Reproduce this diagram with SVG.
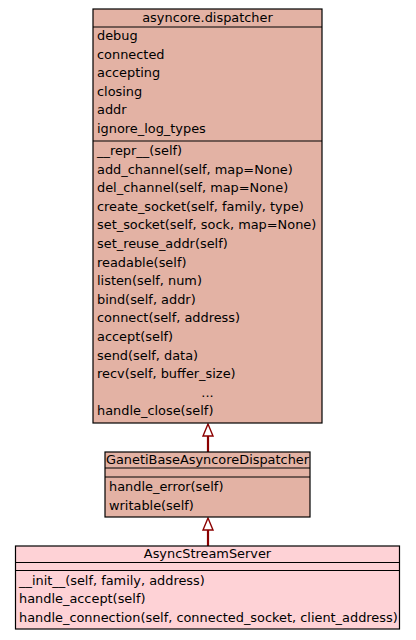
<svg xmlns="http://www.w3.org/2000/svg" width="416" height="640" viewBox="0 0 416 640">
<defs>
<style>
.box{stroke:#000;stroke-width:1.2}
.a{fill:#e3b2a4}
.b{fill:#fed2d6}
.sep{stroke:#000;stroke-width:1.2}
text{font-family:"DejaVu Sans",sans-serif;font-size:12.9px;fill:#000}
.c{text-anchor:middle}
.edge{stroke:#8b0000;stroke-width:2.2;fill:none}
.head{fill:#fff;stroke:#8b0000;stroke-width:1.4}
</style>
</defs>
<rect width="416" height="640" fill="#fff"/>
<g id="connectors">
<line class="edge" x1="208" y1="436" x2="208" y2="452"/>
<polygon class="head" points="208,424 203,436 213,436"/>
<line class="edge" x1="208" y1="530" x2="208" y2="546"/>
<polygon class="head" points="208,518 203,530 213,530"/>
</g>
<g id="dispatcher">
<rect class="box a" x="93" y="9" width="229" height="414"/>
<line class="sep" x1="93" y1="27" x2="322" y2="27"/>
<line class="sep" x1="93" y1="141" x2="322" y2="141"/>
<text class="c" x="207.5" y="22">asyncore.dispatcher</text>
<text x="97" y="40">debug</text>
<text x="97" y="58.6">connected</text>
<text x="97" y="77.2">accepting</text>
<text x="97" y="95.8">closing</text>
<text x="97" y="114.4">addr</text>
<text x="97" y="133">ignore_log_types</text>
<text x="97" y="155">__repr__(self)</text>
<text x="97" y="173.6">add_channel(self, map=None)</text>
<text x="97" y="192.2">del_channel(self, map=None)</text>
<text x="97" y="210.8">create_socket(self, family, type)</text>
<text x="97" y="229.4">set_socket(self, sock, map=None)</text>
<text x="97" y="248">set_reuse_addr(self)</text>
<text x="97" y="266.6">readable(self)</text>
<text x="97" y="285.2">listen(self, num)</text>
<text x="97" y="303.8">bind(self, addr)</text>
<text x="97" y="322.4">connect(self, address)</text>
<text x="97" y="341">accept(self)</text>
<text x="97" y="359.6">send(self, data)</text>
<text x="97" y="378.2">recv(self, buffer_size)</text>
<text class="c" x="207.5" y="396.8">...</text>
<text x="97" y="415.4">handle_close(self)</text>
</g>
<g id="ganeti">
<rect class="box a" x="105" y="452" width="205" height="65"/>
<line class="sep" x1="105" y1="468" x2="310" y2="468"/>
<line class="sep" x1="105" y1="477" x2="310" y2="477"/>
<text class="c" x="207.5" y="464">GanetiBaseAsyncoreDispatcher</text>
<text x="109" y="491">handle_error(self)</text>
<text x="109" y="509.6">writable(self)</text>
</g>
<g id="server">
<rect class="box b" x="15.5" y="546" width="384" height="83"/>
<line class="sep" x1="15.5" y1="562.5" x2="399.5" y2="562.5"/>
<line class="sep" x1="15.5" y1="570.5" x2="399.5" y2="570.5"/>
<text class="c" x="207.5" y="558">AsyncStreamServer</text>
<text x="19" y="584.5">__init__(self, family, address)</text>
<text x="19" y="603.1">handle_accept(self)</text>
<text x="19" y="621.7">handle_connection(self, connected_socket, client_address)</text>
</g>
</svg>
